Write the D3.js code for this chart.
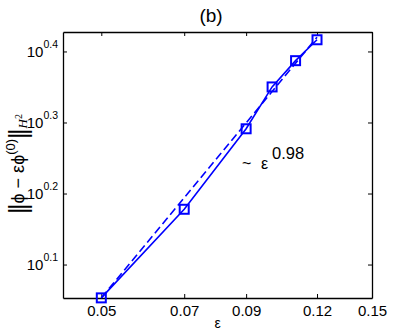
<!DOCTYPE html>
<html>
<head>
<meta charset="utf-8">
<script src="https://cdn.jsdelivr.net/npm/d3@7/dist/d3.min.js"></script>
<style>
  body { margin: 0; background: #fff; }
  svg { font-family: "Liberation Sans", Arial, sans-serif; }
</style>
</head>
<body>
<div id="chart"></div>
<script>
// значения эпсилон и нормы ошибки
var epsVals = [0.05, 0.07, 0.09, 0.10, 0.11, 0.12];
var errVals = [1.130, 1.506, 1.955, 2.239, 2.438, 2.609];
// пунктирная линия ~ eps^0.98
var fitEps = [0.05, 0.12];
var fitVals = [1.13, 2.63];
// подписи осей
var xTicks = [0.05, 0.07, 0.09, 0.12, 0.15];
var yTickExps = ["0.1", "0.2", "0.3", "0.4"];

var W = 400, H = 336;
var margin = { top: 32, right: 28, bottom: 38, left: 63 }
    , width = W - margin.left - margin.right
    , height = H - margin.top - margin.bottom;

var blue = "#0000ff";

var svg = d3.select("#chart").append("svg")
    .attr("width", W)
    .attr("height", H);

var g = svg.append("g")
    .attr("transform", "translate(" + margin.left + "," + margin.top + ")");

var xScale = d3.scaleLog()
    .domain([0.0428, 0.15])
    .range([0, width]);

var yScale = d3.scaleLog()
    .domain([Math.pow(10, 0.0529), Math.pow(10, 0.4274)])
    .range([height, 0]);

var yTicks = yTickExps.map(function (e) { return Math.pow(10, +e); });

// оси: тики внутрь, как в MATLAB
var gx = g.append("g")
    .attr("transform", "translate(0," + height + ")")
    .call(d3.axisBottom(xScale).tickValues(xTicks)
        .tickFormat(function (d) { return String(d); })
        .tickSizeInner(-4).tickSizeOuter(0).tickPadding(7));

g.append("g")
    .call(d3.axisTop(xScale).tickValues(xTicks).tickFormat("")
        .tickSizeInner(-4).tickSizeOuter(0));

var gy = g.append("g")
    .call(d3.axisLeft(yScale).tickValues(yTicks).tickFormat("")
        .tickSizeInner(-4).tickSizeOuter(0).tickPadding(5));

g.append("g")
    .attr("transform", "translate(" + width + ",0)")
    .call(d3.axisRight(yScale).tickValues(yTicks).tickFormat("")
        .tickSizeInner(-4).tickSizeOuter(0));

g.selectAll(".domain").attr("stroke", "#000").attr("stroke-width", 1.3);
g.selectAll(".tick line").attr("stroke", "#000").attr("stroke-width", 1);

gx.selectAll(".tick text")
    .attr("font-size", 15)
    .attr("font-family", null)
    .attr("fill", "#000");

// подписи вида 10^0.x
gy.selectAll(".tick text")
    .attr("font-family", null)
    .attr("fill", "#000")
    .attr("dy", "5px")
    .each(function (d, i) {
        var t = d3.select(this);
        t.append("tspan").attr("font-size", 15).text("10");
        t.append("tspan").attr("font-size", 10.5).attr("dy", -9).text(yTickExps[i]);
    });

// пунктирная линия аппроксимации
var line = d3.line()
    .x(function (d) { return xScale(d[0]); })
    .y(function (d) { return yScale(d[1]); });

g.append("path")
    .datum(d3.zip(fitEps, fitVals))
    .attr("fill", "none")
    .attr("stroke", blue)
    .attr("stroke-width", 1.6)
    .attr("stroke-dasharray", "8,4")
    .attr("d", line);

// сплошная линия с данными
g.append("path")
    .datum(d3.zip(epsVals, errVals))
    .attr("fill", "none")
    .attr("stroke", blue)
    .attr("stroke-width", 1.6)
    .attr("d", line);

g.selectAll(".mk")
    .data(d3.zip(epsVals, errVals))
    .enter().append("rect")
    .attr("class", "mk")
    .attr("x", function (d) { return xScale(d[0]) - 4.5; })
    .attr("y", function (d) { return yScale(d[1]) - 4.5; })
    .attr("width", 9)
    .attr("height", 9)
    .attr("fill", "none")
    .attr("stroke", blue)
    .attr("stroke-width", 2);

// аннотация ~ eps^0.98
var ann = svg.append("text")
    .attr("font-size", 16)
    .attr("fill", "#000");
ann.append("tspan").attr("x", 242).attr("y", 169).text("~");
ann.append("tspan").attr("x", 261).attr("y", 169).text("ε");
ann.append("tspan").attr("x", 272).attr("y", 159).attr("font-size", 16.5).text("0.98");

// заголовок
svg.append("text")
    .attr("x", 211)
    .attr("y", 22)
    .attr("text-anchor", "middle")
    .attr("font-size", 19)
    .text("(b)");

// подпись оси X
svg.append("text")
    .attr("x", margin.left + width / 2)
    .attr("y", 328)
    .attr("text-anchor", "middle")
    .attr("font-size", 14)
    .text("ε");

// подпись оси Y
var yl = svg.append("text")
    .attr("transform", "translate(24,164) rotate(-90)")
    .attr("text-anchor", "middle")
    .attr("font-size", 18);
yl.append("tspan").attr("font-size", 25).attr("letter-spacing", -2.5).attr("dy", 3).text("||");
yl.append("tspan").attr("dx", 2.5).attr("dy", -3).text("ϕ");
yl.append("tspan").text(" − ε");
yl.append("tspan").text("ϕ");
yl.append("tspan").attr("font-size", 13).attr("dy", -9).text("(0)");
yl.append("tspan").attr("font-size", 25).attr("letter-spacing", -2.5).attr("dy", 12).text("||");
yl.append("tspan").attr("font-size", 13).attr("dx", 2.5).attr("dy", 0)
    .attr("font-family", "Liberation Serif, serif").attr("font-style", "italic").text("H");
yl.append("tspan").attr("font-size", 10).attr("dy", -5)
    .attr("font-family", "Liberation Serif, serif").text("2");
</script>
</body>
</html>
